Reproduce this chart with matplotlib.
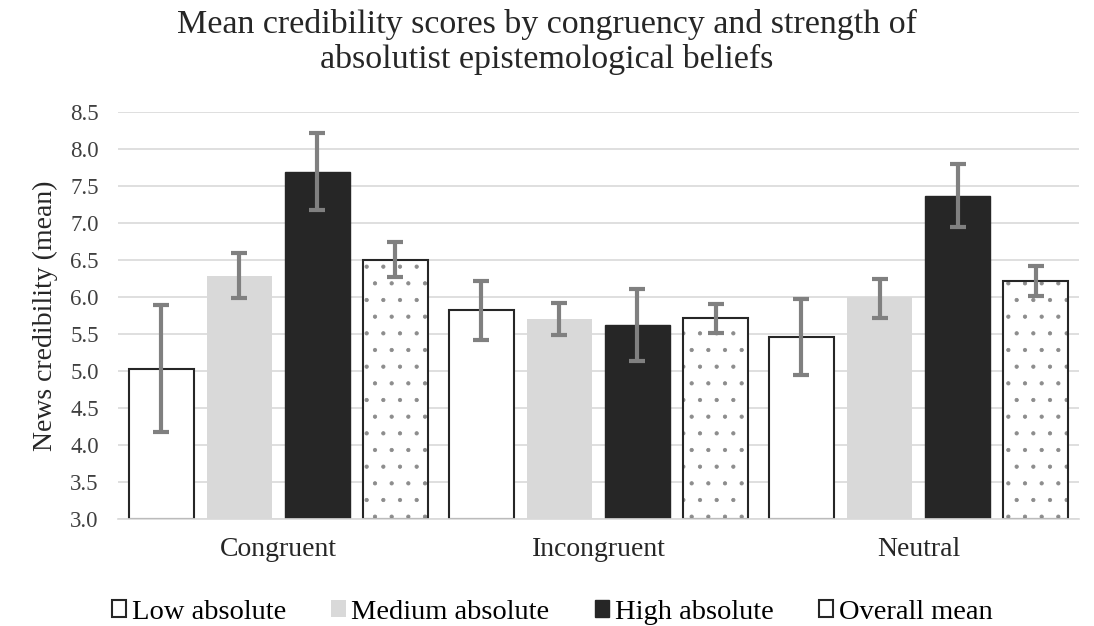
import numpy as np
import matplotlib.pyplot as plt

plt.rcParams['font.family'] = ['Liberation Serif', 'DejaVu Serif']
plt.rcParams['hatch.linewidth'] = 0.6

categories = ['Congruent', 'Incongruent', 'Neutral']
groups = ['Low absolute', 'Medium absolute', 'High absolute', 'Overall mean']

# means per group, across categories
low_mean = [5.03, 5.82, 5.46]
med_mean = [6.28, 5.70, 6.00]
high_mean = [7.69, 5.62, 7.36]
overall_mean = [6.50, 5.72, 6.22]

# error bar lower / upper ends
low_err_lo = [4.17, 5.42, 4.95]
low_err_hi = [5.89, 6.22, 5.97]
med_err_lo = [5.98, 5.49, 5.71]
med_err_hi = [6.59, 5.92, 6.24]
high_err_lo = [7.18, 5.13, 6.95]
high_err_hi = [8.22, 6.11, 7.80]
overall_err_lo = [6.27, 5.52, 6.01]
overall_err_hi = [6.74, 5.91, 6.42]

means = [low_mean, med_mean, high_mean, overall_mean]
err_lo = [low_err_lo, med_err_lo, high_err_lo, overall_err_lo]
err_hi = [low_err_hi, med_err_hi, high_err_hi, overall_err_hi]

styles = [
    dict(color='white', edgecolor='#262626', linewidth=1.5),
    dict(color='#d9d9d9', edgecolor='#d9d9d9', linewidth=0),
    dict(color='#262626', edgecolor='#262626', linewidth=1.0),
    dict(color='white', edgecolor='#262626', linewidth=1.5),
]

fig = plt.figure(figsize=(10.94, 6.26), dpi=100)
ax = fig.add_axes([0.108, 0.171, 0.878, 0.650])

x = np.arange(len(categories))
width = 0.203
step = 0.244
for i in range(4):
    pos = x + (i - 1.5) * step
    m = np.array(means[i])
    yerr = [m - np.array(err_lo[i]), np.array(err_hi[i]) - m]
    if i == 3:
        # gray dot pattern underneath, dark outline on top
        ax.bar(pos, m - 3.0, bottom=3.0, width=width, color='white', edgecolor='#8c8c8c',
               linewidth=0, hatch='.', zorder=2)
        ax.bar(pos, m - 3.0, bottom=3.0, width=width, fill=False, edgecolor='#262626',
               linewidth=1.5, zorder=2.1, label=groups[i])
    else:
        ax.bar(pos, m - 3.0, bottom=3.0, width=width, label=groups[i], zorder=2, **styles[i])
    ax.errorbar(pos, m, yerr=yerr, fmt='none', ecolor='#808080', elinewidth=3,
                capsize=6, capthick=3, zorder=3)

ax.set_ylim(3.0, 8.5)
ax.set_xlim(-0.5, 2.5)
yt = np.arange(3.0, 8.51, 0.5)
ax.set_yticks(yt)
ax.set_yticklabels([f'{v:.1f}' for v in yt], fontsize=16.5, color='#404040')
ax.set_xticks(x)
ax.set_xticklabels(categories, fontsize=20, color='#262626')
ax.tick_params(axis='y', length=0, pad=14)
ax.tick_params(axis='x', length=0, pad=13)
ax.yaxis.grid(True, color='#d9d9d9', linewidth=1.2, zorder=0)
ax.set_axisbelow(True)
for s in ['top', 'right', 'left']:
    ax.spines[s].set_visible(False)
ax.spines['bottom'].set_color('#d9d9d9')
ax.spines['bottom'].set_linewidth(1.2)

ax.set_ylabel('News credibility (mean)', fontsize=20, color='#262626', labelpad=9)
fig.suptitle('Mean credibility scores by congruency and strength of\nabsolutist epistemological beliefs',
             fontsize=24.5, color='#262626', y=0.985, linespacing=1.15)

leg = ax.legend(loc='upper center', bbox_to_anchor=(0.452, -0.135), ncol=4, frameon=False,
                fontsize=20.5, handlelength=0.5, handleheight=0.5, handletextpad=0.2,
                columnspacing=1.6)

fig.savefig('out.png', dpi=100)
